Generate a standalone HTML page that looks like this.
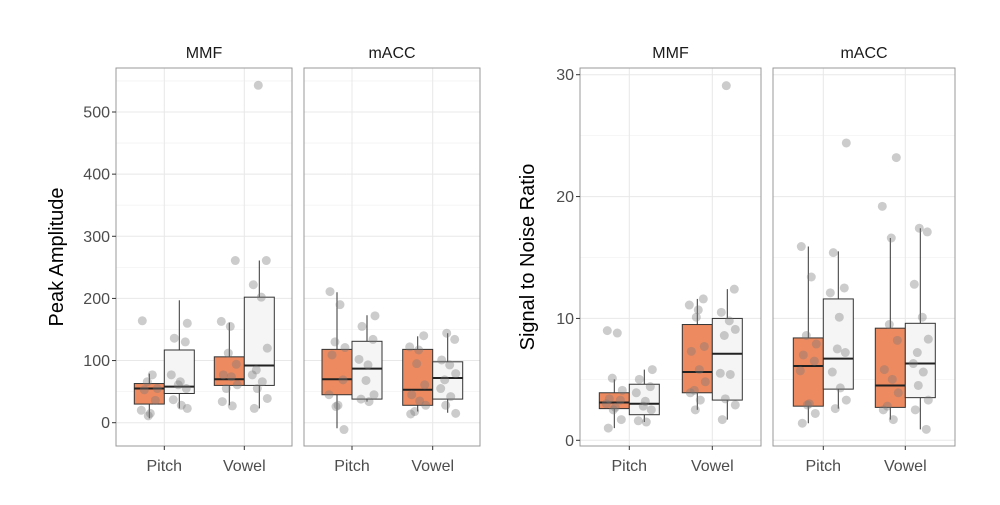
<!DOCTYPE html>
<html><head><meta charset="utf-8"><style>
body{margin:0;background:#fff;font-family:"Liberation Sans",sans-serif}
svg{display:block}
</style></head><body>
<svg id="chart" width="1000" height="505" viewBox="0 0 1000 505" font-family="Liberation Sans, sans-serif"></svg>
<script>
// ---------- data ----------
const facets = ["MMF", "mACC"];
const categories = ["Pitch", "Vowel"];
const groups = ["orange", "white"];
// boxes: [low whisker, q1, median, q3, high whisker] per facet, category, group
const ampBoxes = [
  [[[7,30,55,63,79],[23,47,58,117,197]], [[28,60,70,106,161],[23,60,92,202,261]]],
  [[[-9,45,70,118,210],[34,38,87,131,173]], [[18,28,53,118,139],[16,38,72,98,144]]]
];
const ampPoints = [
  [[[164,77,66,55,53,36,20,15,11],[160,136,130,77,66,61,55,37,28,23]],
   [[261,163,155,112,94,77,74,61,55,34,27],[543,261,222,202,120,85,77,66,55,39,23]]],
  [[[211,190,130,121,109,69,45,28,26,-11],[172,155,134,102,93,68,45,38,34]],
   [[140,122,117,95,61,45,35,28,18,14],[144,134,101,93,79,69,55,42,28,15]]]
];
const ampTicks = [0,100,200,300,400,500];
const snrBoxes = [
  [[[1.0,2.6,3.1,3.9,5.0],[1.5,2.1,3.0,4.6,5.8]], [[2.5,3.9,5.6,9.5,11.6],[1.7,3.3,7.1,10.0,12.4]]],
  [[[1.4,2.8,6.1,8.4,15.9],[2.6,4.2,6.7,11.6,15.5]], [[1.7,2.7,4.5,9.2,16.6],[0.9,3.5,6.3,9.6,17.4]]]
];
const snrPoints = [
  [[[9.0,8.8,5.1,4.1,3.4,3.3,3.0,2.7,2.5,1.7,1.0],[5.8,5.0,4.4,3.9,3.2,2.8,2.5,1.6,1.5]],
   [[11.6,11.1,10.7,10.1,7.7,7.3,5.8,4.8,4.1,3.9,3.3,2.5],[29.1,12.4,10.5,9.8,9.1,8.6,5.5,5.4,3.4,2.9,1.7]]],
  [[[15.9,13.4,8.6,7.9,7.0,6.5,5.7,3.0,2.9,2.2,1.4],[24.4,15.4,12.5,12.1,10.1,7.5,7.2,5.6,4.3,3.3,2.6]],
   [[23.2,19.2,16.6,9.5,8.2,5.8,5.0,3.9,2.8,2.5,1.7],[17.4,17.1,12.8,10.1,8.3,7.2,6.3,5.6,4.5,3.3,2.5,0.9]]]
];
const snrTicks = [0,10,20,30];

// ---------- drawing ----------
const NS="http://www.w3.org/2000/svg";
const svg=document.getElementById('chart');
function mk(tag,attrs,parent){const e=document.createElementNS(NS,tag);for(const k in attrs)e.setAttribute(k,attrs[k]);(parent||svg).appendChild(e);return e;}
const jit=[-7,3,-2,8,-5,6,-8,1,-1,7,-6,2,8,-3];

function drawChart(cfg){
  const g=mk('g',{});
  
  
  const y=v=>cfg.y0+(v-cfg.v0)*(cfg.y1-cfg.y0)/(cfg.v1-cfg.v0);
  cfg.panels.forEach((p,fi)=>{
    const pg=mk('g',{},g);
    
    
    mk('rect',{x:p.x0,y:cfg.top,width:p.x1-p.x0,height:cfg.bottom-cfg.top,fill:'#fff'},pg);
    for(let i=0;i<cfg.ticks.length;i++){
      const mv=cfg.ticks[i]+(cfg.ticks[1]-cfg.ticks[0])/2;
      const yy=y(mv);
      if(yy>cfg.top&&yy<cfg.bottom){const l=mk('line',{x1:p.x0,x2:p.x1,y1:yy,y2:yy,stroke:'#f3f3f3','stroke-width':0.8},pg);
      }
    }
    cfg.ticks.forEach(t=>{const yy=y(t);const l=mk('line',{x1:p.x0,x2:p.x1,y1:yy,y2:yy,stroke:'#e8e8e8','stroke-width':1},pg);
      });
    categories.forEach((c,ci)=>{const xx=p.cx[ci];const l=mk('line',{x1:xx,x2:xx,y1:cfg.top,y2:cfg.bottom,stroke:'#e8e8e8','stroke-width':1},pg);
      });
    categories.forEach((c,ci)=>{
      groups.forEach((gr,gi)=>{
        const b=cfg.boxes[fi][ci][gi];
        const cx=p.cx[ci]+(gi===0?-15:15);
        const bg=mk('g',{},pg);
        
        
        mk('line',{x1:cx,x2:cx,y1:y(b[0]),y2:y(b[4]),stroke:'#333','stroke-width':1},bg);
        mk('rect',{x:cx-15,y:y(b[3]),width:30,height:y(b[1])-y(b[3]),fill:gi===0?'#ee8a5f':'#f5f5f5',stroke:'#333','stroke-width':1},bg);
        mk('line',{x1:cx-15,x2:cx+15,y1:y(b[2]),y2:y(b[2]),stroke:'#222','stroke-width':2},bg);
        cfg.points[fi][ci][gi].forEach((v,pi)=>{
          const pt=mk('circle',{cx:cx+jit[(pi+gi*3+ci*5)%jit.length],cy:y(v),r:4.5,fill:'#7a7a7a','fill-opacity':0.38},bg);
          
          
        });
      });
    });
    mk('rect',{x:p.x0,y:cfg.top,width:p.x1-p.x0,height:cfg.bottom-cfg.top,fill:'none',stroke:'#999','stroke-width':1},pg);
    const st=mk('text',{x:(p.x0+p.x1)/2,y:58,'text-anchor':'middle','font-size':16,fill:'#1a1a1a'},pg);
    st.textContent=facets[fi];
    
    categories.forEach((c,ci)=>{
      mk('line',{x1:p.cx[ci],x2:p.cx[ci],y1:cfg.bottom,y2:cfg.bottom+4,stroke:'#333'},pg);
      const t=mk('text',{x:p.cx[ci],y:471,'text-anchor':'middle','font-size':16,fill:'#4d4d4d'},pg);
      t.textContent=c;
      
    });
  });
  const x0=cfg.panels[0].x0;
  cfg.ticks.forEach(t=>{
    const yy=y(t);
    mk('line',{x1:x0-4,x2:x0,y1:yy,y2:yy,stroke:'#333'},g);
    const tl=mk('text',{x:x0-6,y:yy+5.5,'text-anchor':'end','font-size':16,fill:'#4d4d4d'},g);
    tl.textContent=t;
    
  });
  const yt=mk('text',{x:0,y:0,'text-anchor':'middle','font-size':20,fill:'#000',transform:`translate(${cfg.titleX},${(cfg.top+cfg.bottom)/2}) rotate(-90)`},g);
  yt.textContent=cfg.title;
  
}

drawChart({name:'peak-amplitude-chart',top:68,bottom:446,v0:0,y0:422.7,v1:500,y1:112,ticks:ampTicks,
  boxes:ampBoxes,points:ampPoints,title:'Peak Amplitude',titleX:63,
  panels:[{x0:116,x1:292,cx:[164.3,244.3]},{x0:304,x1:480,cx:[352,432.7]}]});
drawChart({name:'snr-chart',top:68,bottom:446,v0:0,y0:440.3,v1:30,y1:74.7,ticks:snrTicks,
  boxes:snrBoxes,points:snrPoints,title:'Signal to Noise Ratio',titleX:534,
  panels:[{x0:580,x1:761,cx:[629.3,712.3]},{x0:773,x1:955,cx:[823.3,905.3]}]});
</script>
</body></html>
